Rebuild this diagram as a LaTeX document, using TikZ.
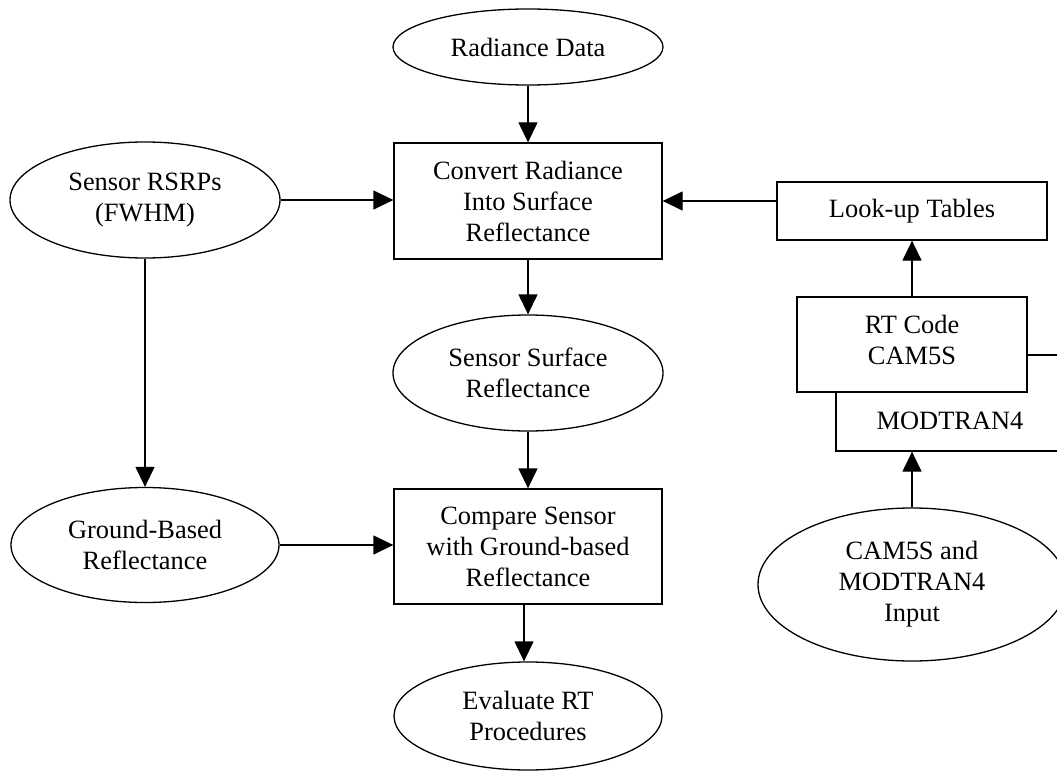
\documentclass[tikz,border=0pt]{standalone}
\usepackage{fontspec}
\setmainfont{Liberation Serif}
\usetikzlibrary{shapes.geometric,arrows.meta}
\begin{document}
\begin{tikzpicture}[x=1pt,y=-1pt,
  every node/.style={font=\fontsize{26.4}{31}\selectfont, align=center, inner sep=0pt},
  ell/.style={draw, line width=1.3pt, ellipse, fill=white},
  boxn/.style={draw, line width=1.3pt, rectangle, fill=white},
  arr/.style={line width=1.3pt, -{Triangle[length=20pt,width=19pt]}}]
\useasboundingbox (0,0) rectangle (1057,773);
\clip (0,0) rectangle (1057,773);
% nodes
\node[ell, minimum width=270pt, minimum height=76pt] (rad) at (528,47) {Radiance Data};
\node[boxn, minimum width=268pt, minimum height=116pt] (conv) at (528,201) {Convert Radiance\\Into Surface\\Reflectance};
\node[ell, minimum width=270pt, minimum height=116pt] (rsrp) at (145,200) {Sensor RSRPs\\(FWHM)};
\node[boxn, minimum width=270pt, minimum height=58pt] (lut) at (912,211) {Look-up Tables};
\node[ell, minimum width=270pt, minimum height=116pt] (ssr) at (528,373) {Sensor Surface\\Reflectance};
% MODTRAN4 box behind RT code box
\node[boxn, minimum width=244pt, minimum height=96pt] (mod) at (958,403) {};
\node (modt) at (950,421) {MODTRAN4};
\node[boxn, minimum width=230pt, minimum height=95pt] (rt) at (912,344.5) {};
\node (rtt) at (912,340) {RT Code\\CAM5S};
\node[ell, minimum width=268pt, minimum height=115pt] (gbr) at (145,545) {Ground-Based\\Reflectance};
\node[boxn, minimum width=268pt, minimum height=115pt] (cmp) at (528,546.5) {Compare Sensor\\with Ground-based\\Reflectance};
\node[ell, minimum width=308pt, minimum height=153pt] (cam) at (912,584.5) {CAM5S and\\MODTRAN4\\Input};
\node[ell, minimum width=268pt, minimum height=108pt] (eva) at (528,716) {Evaluate RT\\Procedures};
% connectors
\draw[arr] (rad.south) -- (conv.north);
\draw[arr] (rsrp.east) -- (rsrp.east -| conv.west);
\draw[arr] (lut.west |- conv.east) -- (conv.east);
\draw[arr] (rt.north) -- (lut.south);
\draw[arr] (conv.south) -- (ssr.north);
\draw[arr] (rsrp.south) -- (gbr.north);
\draw[arr] (ssr.south) -- (cmp.north);
\draw[arr] (gbr.east) -- (gbr.east -| cmp.west);
\draw[arr] ([xshift=-4pt]cmp.south) -- ([xshift=-4pt]eva.north);
\draw[arr] (cam.north) -- (cam.north |- mod.south);
\end{tikzpicture}
\end{document}
